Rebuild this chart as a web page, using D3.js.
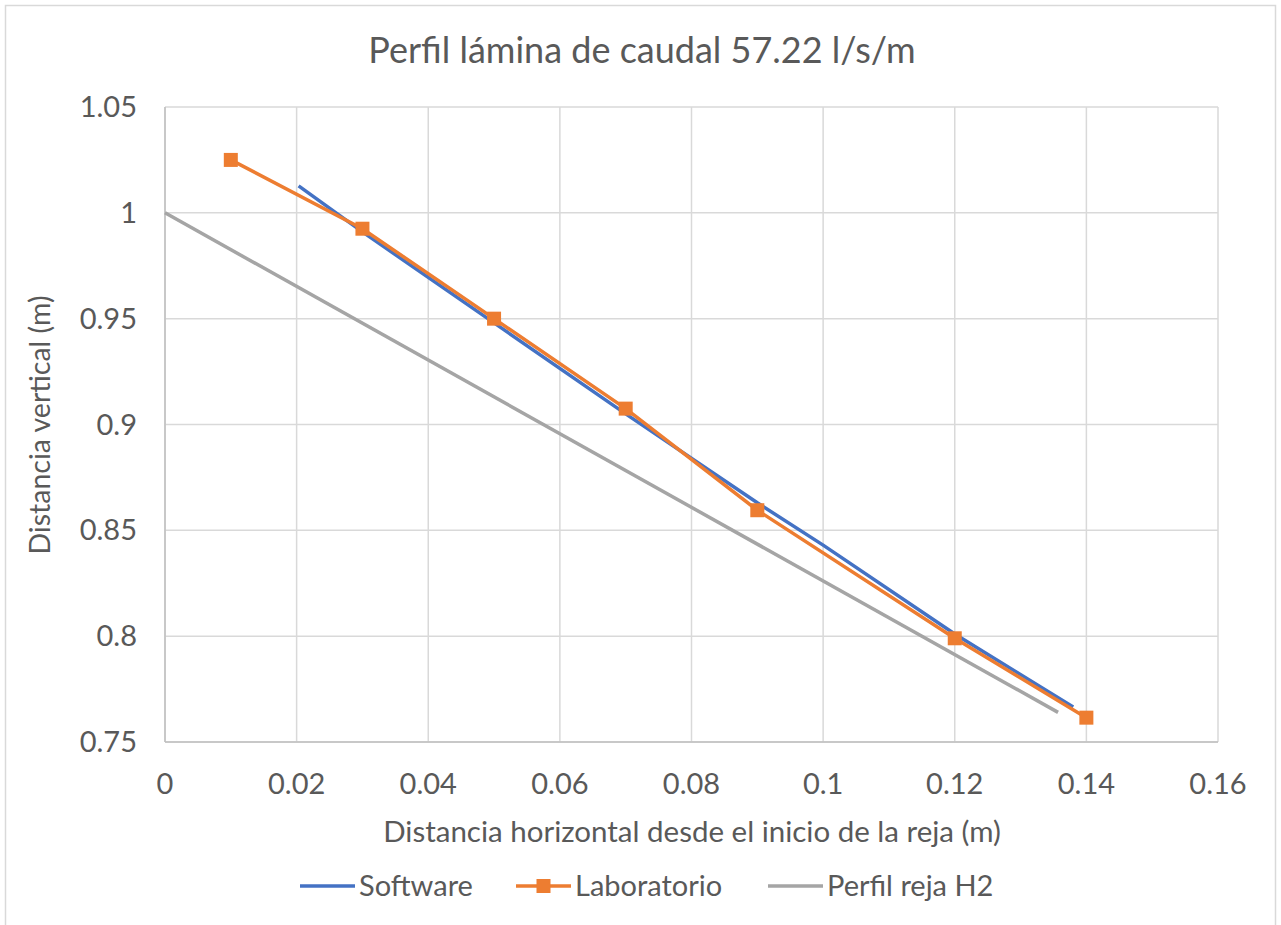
<!DOCTYPE html>
<html>
<head>
<meta charset="utf-8">
<script src="https://cdn.jsdelivr.net/npm/d3@7"></script>
<style>
  body { margin: 0; background: #fff; }
  text { font-family: Lato, "Open Sans", sans-serif; fill: #595959; }
</style>
</head>
<body>
<div id="container"></div>
<script>
// series
let softX = [0.0203, 0.03, 0.05, 0.07, 0.09, 0.1, 0.12, 0.138];
let softY = [1.0127, 0.991, 0.948, 0.905, 0.863, 0.843, 0.801, 0.7665];

let labX = [0.01, 0.03, 0.05, 0.07, 0.09, 0.12, 0.14];
let labY = [1.025, 0.9925, 0.950, 0.9075, 0.8595, 0.799, 0.7615];

let rejaX = [0, 0.1357];
let rejaY = [1.0, 0.764];

let xTicks = [0, 0.02, 0.04, 0.06, 0.08, 0.1, 0.12, 0.14, 0.16];
let yTicks = [0.75, 0.8, 0.85, 0.9, 0.95, 1, 1.05];

let w = 1281;
let h = 925;
let plotLeft = 165, plotRight = 1218, plotTop = 107, plotBottom = 742;

let viz = d3.select("#container")
  .append("svg")
  .attr("width", w)
  .attr("height", h);

// chart frame
viz.append("rect")
  .attr("x", 5.5).attr("y", 5.5)
  .attr("width", 1270).attr("height", 940)
  .attr("fill", "none")
  .attr("stroke", "#d9d9d9")
  .attr("stroke-width", 1.5);

let xScale = d3.scaleLinear().domain([0, 0.16]).range([plotLeft, plotRight]);
let yScale = d3.scaleLinear().domain([0.75, 1.05]).range([plotBottom, plotTop]);

// grid
viz.selectAll(".vgrid").data(xTicks).enter().append("line")
  .attr("x1", d => xScale(d)).attr("x2", d => xScale(d))
  .attr("y1", plotTop).attr("y2", plotBottom)
  .attr("stroke", "#d9d9d9").attr("stroke-width", 1.5);

viz.selectAll(".hgrid").data(yTicks).enter().append("line")
  .attr("x1", plotLeft).attr("x2", plotRight)
  .attr("y1", d => yScale(d)).attr("y2", d => yScale(d))
  .attr("stroke", "#d9d9d9").attr("stroke-width", 1.5);

// axis lines
viz.append("line").attr("x1", plotLeft).attr("x2", plotLeft).attr("y1", plotTop).attr("y2", plotBottom)
  .attr("stroke", "#bfbfbf").attr("stroke-width", 1.5);
viz.append("line").attr("x1", plotLeft).attr("x2", plotRight).attr("y1", plotBottom).attr("y2", plotBottom)
  .attr("stroke", "#bfbfbf").attr("stroke-width", 1.5);

// tick labels
viz.selectAll(".xlab").data(xTicks).enter().append("text")
  .attr("x", d => xScale(d))
  .attr("y", 794)
  .attr("text-anchor", "middle")
  .attr("font-size", "29px")
  .text(d => d3.format("")(d));

viz.selectAll(".ylab").data(yTicks).enter().append("text")
  .attr("x", 137)
  .attr("y", d => yScale(d) + 10)
  .attr("text-anchor", "end")
  .attr("font-size", "29px")
  .text(d => d3.format("")(d));

// titles
viz.append("text")
  .attr("x", 642).attr("y", 63)
  .attr("text-anchor", "middle")
  .attr("font-size", "36px")
  .text("Perfil lámina de caudal 57.22 l/s/m");

viz.append("text")
  .attr("x", 692).attr("y", 842)
  .attr("text-anchor", "middle")
  .attr("font-size", "29.5px")
  .text("Distancia horizontal desde el inicio de la reja (m)");

viz.append("text")
  .attr("transform", "translate(50, 425) rotate(-90)")
  .attr("text-anchor", "middle")
  .attr("font-size", "28.5px")
  .text("Distancia vertical (m)");

// lines
let line = d3.line().x(d => xScale(d[0])).y(d => yScale(d[1]));

let rejaData = rejaX.map((x, i) => [x, rejaY[i]]);
let softData = softX.map((x, i) => [x, softY[i]]);
let labData = labX.map((x, i) => [x, labY[i]]);

viz.append("path").datum(rejaData).attr("d", line)
  .attr("fill", "none").attr("stroke", "#a5a5a5").attr("stroke-width", 3.5);

viz.append("path").datum(softData).attr("d", line)
  .attr("fill", "none").attr("stroke", "#4472c4").attr("stroke-width", 3.5);

viz.append("path").datum(labData).attr("d", line)
  .attr("fill", "none").attr("stroke", "#ed7d31").attr("stroke-width", 3.5);

viz.selectAll(".labpt").data(labData).enter().append("rect")
  .attr("x", d => xScale(d[0]) - 7)
  .attr("y", d => yScale(d[1]) - 7)
  .attr("width", 14).attr("height", 14)
  .attr("fill", "#ed7d31");

// legend
let legend = [
  { name: "Software", color: "#4472c4", x: 300, marker: false },
  { name: "Laboratorio", color: "#ed7d31", x: 516, marker: true },
  { name: "Perfil reja H2", color: "#a5a5a5", x: 768, marker: false }
];
let ly = 886;
legend.forEach(function (d) {
  viz.append("line")
    .attr("x1", d.x).attr("x2", d.x + 55)
    .attr("y1", ly).attr("y2", ly)
    .attr("stroke", d.color).attr("stroke-width", 3.5);
  if (d.marker) {
    viz.append("rect")
      .attr("x", d.x + 27.5 - 7).attr("y", ly - 7)
      .attr("width", 14).attr("height", 14)
      .attr("fill", d.color);
  }
  viz.append("text")
    .attr("x", d.x + 59).attr("y", ly + 10)
    .attr("font-size", "29px")
    .text(d.name);
});
</script>
</body>
</html>
